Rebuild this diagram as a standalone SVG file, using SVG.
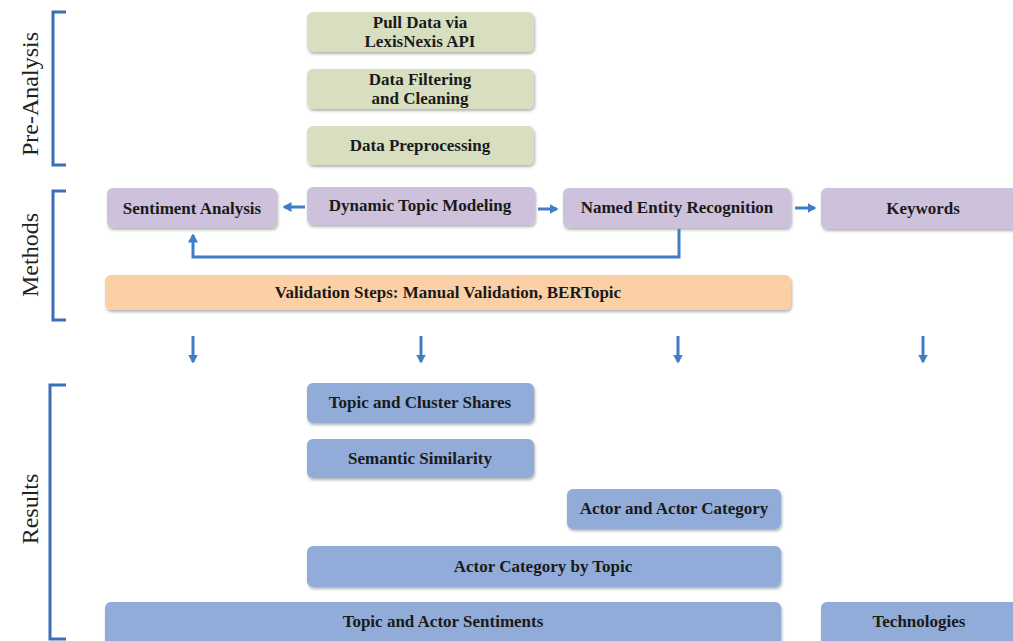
<svg xmlns="http://www.w3.org/2000/svg" width="1013" height="641" viewBox="0 0 1013 641">
<style>
.lbl{font-family:"Liberation Serif","DejaVu Serif",serif;font-weight:bold;font-size:17px;fill:#1a1a1a;text-anchor:middle;dominant-baseline:central}
.side{font-family:"Liberation Serif","DejaVu Serif",serif;font-size:24px;fill:#222;text-anchor:middle;dominant-baseline:central}
.g{fill:#d8dfc0}
.p{fill:#cdc1db}
.o{fill:#fcd0a6}
.b{fill:#91acd8}
.br{fill:none;stroke:#3a6fb6;stroke-width:3}
.con{fill:none;stroke:#3f7ec4;stroke-width:3}
</style>
<defs>
<filter id="sh" x="-10%" y="-20%" width="120%" height="150%">
<feDropShadow dx="1" dy="2" stdDeviation="1.5" flood-color="#000" flood-opacity="0.3"/>
</filter>
<marker id="ah" markerWidth="4" markerHeight="4" refX="2.5" refY="2" orient="auto" markerUnits="strokeWidth">
<path d="M0,0.3 L3,2 L0,3.7 Z" fill="#3f7ec4"/>
</marker>
</defs>
<rect width="1013" height="641" fill="#fff"/>

<g id="brackets">
<path class="br" d="M66,12 H53 V165 H66"/>
<text class="side" transform="translate(30,94) rotate(-90)">Pre-Analysis</text>
<path class="br" d="M66,191 H53 V320 H66"/>
<text class="side" transform="translate(30,255) rotate(-90)">Methods</text>
<path class="br" d="M66,385 H50 V639 H66"/>
<text class="side" transform="translate(30,509) rotate(-90)">Results</text>
</g>

<g id="n-pull"><rect class="g" x="307" y="12" width="227" height="40" rx="6" filter="url(#sh)"/><text class="lbl" x="420" y="22">Pull Data via</text><text class="lbl" x="420" y="41">LexisNexis API</text></g>
<g id="n-filter"><rect class="g" x="307" y="69" width="227" height="40" rx="6" filter="url(#sh)"/><text class="lbl" x="420" y="79">Data Filtering</text><text class="lbl" x="420" y="98">and Cleaning</text></g>
<g id="n-prep"><rect class="g" x="307" y="126" width="227" height="39" rx="6" filter="url(#sh)"/><text class="lbl" x="420" y="145">Data Preprocessing</text></g>

<g id="n-sent"><rect class="p" x="107" y="188" width="170" height="40" rx="6" filter="url(#sh)"/><text class="lbl" x="192" y="208">Sentiment Analysis</text></g>
<g id="n-dtm"><rect class="p" x="307" y="187" width="228" height="38" rx="6" filter="url(#sh)"/><text class="lbl" x="420" y="205">Dynamic Topic Modeling</text></g>
<g id="n-ner"><rect class="p" x="563" y="188" width="228" height="40" rx="6" filter="url(#sh)"/><text class="lbl" x="677" y="207">Named Entity Recognition</text></g>
<g id="n-kw"><rect class="p" x="821" y="188" width="200" height="41" rx="6" filter="url(#sh)"/><text class="lbl" x="923" y="208">Keywords</text></g>

<g id="n-val"><rect class="o" x="105" y="275" width="686" height="35" rx="6" filter="url(#sh)"/><text class="lbl" x="448" y="292">Validation Steps: Manual Validation, BERTopic</text></g>

<g id="n-tcs"><rect class="b" x="307" y="383" width="227" height="40" rx="6" filter="url(#sh)"/><text class="lbl" x="420" y="402">Topic and Cluster Shares</text></g>
<g id="n-ss"><rect class="b" x="307" y="439" width="227" height="39" rx="6" filter="url(#sh)"/><text class="lbl" x="420" y="458">Semantic Similarity</text></g>
<g id="n-aac"><rect class="b" x="567" y="489" width="214" height="40" rx="6" filter="url(#sh)"/><text class="lbl" x="674" y="508">Actor and Actor Category</text></g>
<g id="n-acbt"><rect class="b" x="307" y="546" width="474" height="41" rx="6" filter="url(#sh)"/><text class="lbl" x="543" y="566">Actor Category by Topic</text></g>
<g id="n-tas"><rect class="b" x="105" y="602" width="676" height="45" rx="6" filter="url(#sh)"/><text class="lbl" x="443" y="621">Topic and Actor Sentiments</text></g>
<g id="n-tech"><rect class="b" x="821" y="602" width="200" height="45" rx="6" filter="url(#sh)"/><text class="lbl" x="919" y="621">Technologies</text></g>

<g id="connectors">
<path class="con" d="M305,207 H284" marker-end="url(#ah)"/>
<path class="con" d="M538,209 H557" marker-end="url(#ah)"/>
<path class="con" d="M795,208 H815" marker-end="url(#ah)"/>
<path class="con" d="M679,229 V257 H193 V235" marker-end="url(#ah)"/>
<path class="con" d="M193,336 V362" marker-end="url(#ah)"/>
<path class="con" d="M421,336 V362" marker-end="url(#ah)"/>
<path class="con" d="M678,336 V362" marker-end="url(#ah)"/>
<path class="con" d="M923,336 V362" marker-end="url(#ah)"/>
</g>
</svg>
